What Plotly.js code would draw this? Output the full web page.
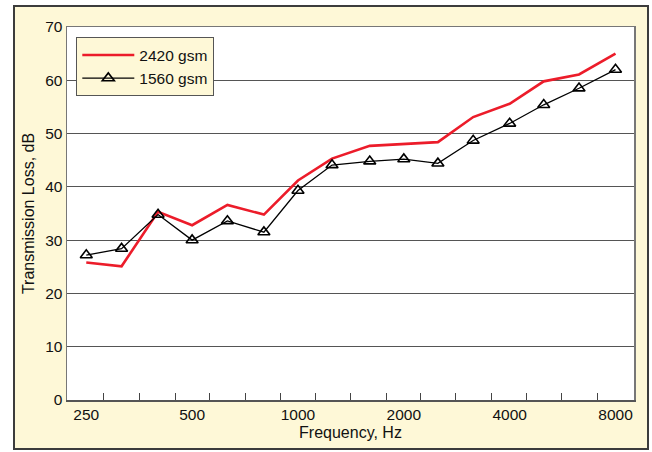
<!DOCTYPE html>
<html>
<head>
<meta charset="utf-8">
<script src="https://cdn.plot.ly/plotly-3.0.1.min.js"></script>
<style>
  html, body { margin: 0; padding: 0; background: #ffffff; }
  #frame {
    position: absolute; left: 13px; top: 5px;
    width: 632px; height: 441px;
    border: 2px solid #3c3c3c;
    background: #fef8d7;
  }
  #chart { width: 632px; height: 441px; }
</style>
</head>
<body>
<div id="frame"><div id="chart"></div></div>
<script>
// One-third octave band centre frequencies (Hz)
const frequencies = [250, 315, 400, 500, 630, 800, 1000, 1250, 1600, 2000, 2500, 3150, 4000, 5000, 6300, 8000];

// Transmission loss (dB) for the two fabric weights
const tl2420 = [25.8, 25.1, 35.3, 32.8, 36.6, 34.8, 41.2, 45.3, 47.7, 48.0, 48.4, 53.1, 55.6, 59.8, 61.1, 65.0];
const tl1560 = [27.2, 28.4, 34.8, 30.0, 33.6, 31.5, 39.3, 44.1, 44.8, 45.2, 44.4, 48.7, 51.9, 55.4, 58.5, 62.0];

// Labelled octave frequencies on the x axis
const octaveTicks = [250, 500, 1000, 2000, 4000, 8000];
const octaveLabels = ["250", "500", "1000", "2000", "4000", "8000"];

// Band edges: geometric mean between neighbouring centre frequencies
const bandEdges = frequencies.slice(0, -1).map((f, i) => Math.sqrt(f * frequencies[i + 1]));

const font = 'Liberation Sans, Arial, Helvetica, sans-serif';
const cream = '#fef8d7';

const traces = [
  {
    x: frequencies, y: tl2420, name: '2420 gsm',
    type: 'scatter', mode: 'lines',
    line: { color: '#ec1c2a', width: 2.6 }
  },
  {
    x: frequencies, y: tl1560, name: '1560 gsm',
    type: 'scatter', mode: 'lines+markers',
    line: { color: '#000000', width: 1.3 },
    marker: {
      symbol: 'triangle-up-open', size: 10.5, color: '#000000',
      line: { color: '#000000', width: 1.6 }
    }
  }
];

const layout = {
  width: 632, height: 441,
  margin: { l: 52, r: 13, t: 20, b: 48 },
  paper_bgcolor: cream,
  plot_bgcolor: '#ffffff',
  font: { family: font, size: 15, color: '#111111' },
  showlegend: true,
  legend: {
    x: 0.0164, y: 0.972, xanchor: 'left', yanchor: 'top',
    bgcolor: cream, bordercolor: '#555555', borderwidth: 1,
    font: { family: font, size: 15.5, color: '#111111' },
    itemwidth: 52,
    tracegroupgap: 0
  },
  xaxis: {
    type: 'log',
    range: [2.3431, 3.9557],
    tickmode: 'array', tickvals: octaveTicks, ticktext: octaveLabels,
    ticks: '', showgrid: false, zeroline: false,
    showline: true, linecolor: '#555555', linewidth: 1.5, mirror: false,
    tickfont: { family: font, size: 15.5, color: '#111111' },
    minor: {
      tickmode: 'array', tickvals: bandEdges,
      ticks: 'inside', ticklen: 7, tickwidth: 1, tickcolor: '#444444',
      showgrid: false
    },
    title: { text: 'Frequency, Hz', font: { family: font, size: 16, color: '#111111' }, standoff: 4 }
  },
  yaxis: {
    range: [0, 70],
    tickmode: 'array', tickvals: [0, 10, 20, 30, 40, 50, 60, 70],
    ticks: '', showgrid: true, gridcolor: '#555555', gridwidth: 1.2,
    zeroline: false,
    showline: true, linecolor: '#777777', linewidth: 1.5, mirror: true,
    tickfont: { family: font, size: 15.5, color: '#111111' },
    title: { text: 'Transmission Loss, dB', font: { family: font, size: 16, color: '#111111' }, standoff: 6 }
  }
};

// Right and top frame of the plot area
layout.xaxis2 = {
  overlaying: 'x', side: 'top', type: 'log', range: layout.xaxis.range,
  showline: true, linecolor: '#777777', linewidth: 1.5,
  showticklabels: false, ticks: '', showgrid: false, zeroline: false
};
traces.push({ x: [], y: [], xaxis: 'x2', showlegend: false, hoverinfo: 'skip' });

Plotly.newPlot('chart', traces, layout, { displayModeBar: false, staticPlot: true });
</script>
</body>
</html>
